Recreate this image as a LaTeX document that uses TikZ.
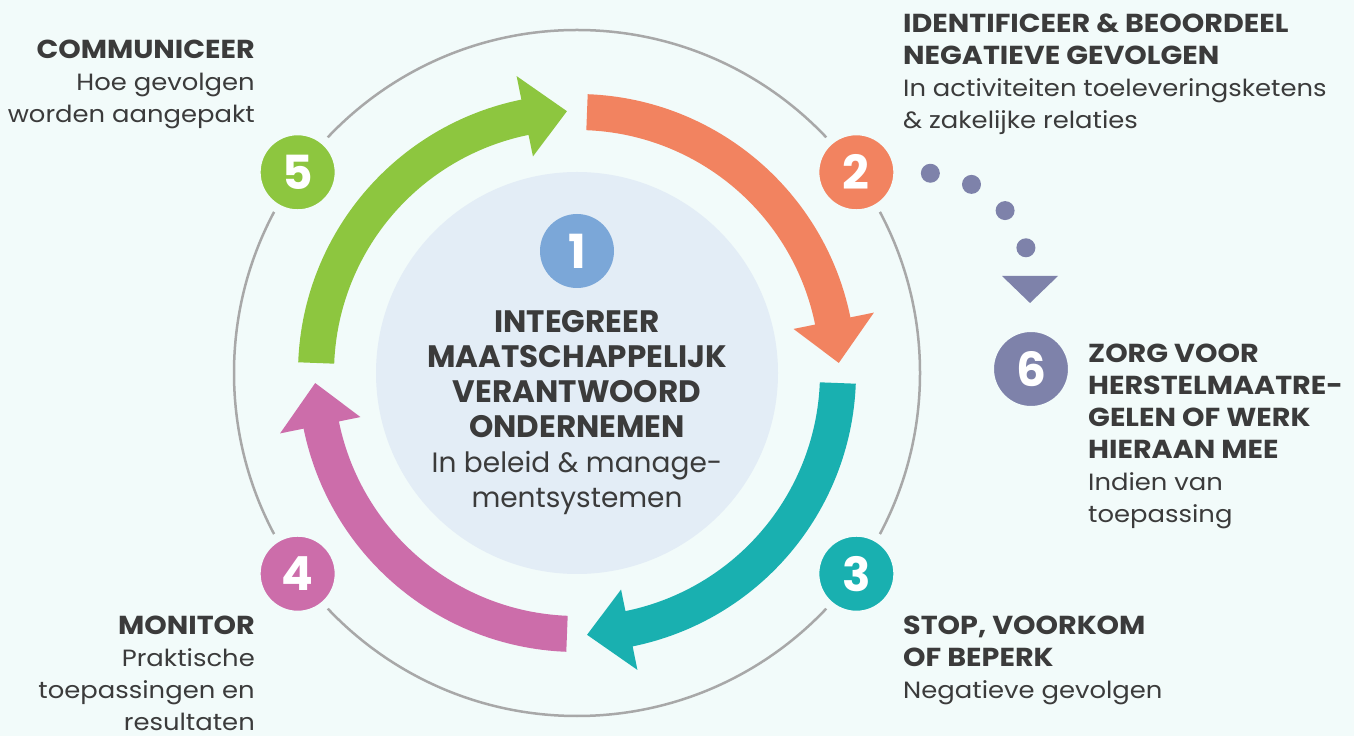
\documentclass[tikz,border=0pt]{standalone}
\usepackage{fontspec}
\setmainfont{Poppins}
\newfontfamily\sidefont{Poppins}[FakeStretch=1.1]
\usetikzlibrary{calc}
\definecolor{bgmint}{HTML}{F2FBFA}
\definecolor{innerblue}{HTML}{E3EDF6}
\definecolor{ringgrey}{HTML}{A8A8A8}
\definecolor{arroworange}{HTML}{F28360}
\definecolor{arrowteal}{HTML}{19B0B0}
\definecolor{arrowpink}{HTML}{CC6DAA}
\definecolor{arrowgreen}{HTML}{8DC63F}
\definecolor{stepblue}{HTML}{7BA7D8}
\definecolor{slate}{HTML}{7E82AA}
\definecolor{darktext}{HTML}{3B3B3B}
\newcommand\sidehead{\sidefont\fontsize{26}{32}\selectfont\bfseries}
\newcommand\sidebody{\sidefont\fontsize{23.5}{32}\selectfont}
\newcommand\centerhead{\fontsize{31}{35}\selectfont\bfseries}
\newcommand\centerbody{\fontsize{28}{35}\selectfont}
\tikzset{
  numdisc/.style={circle, fill=#1, draw=bgmint, line width=9pt, minimum size=83pt,
    inner sep=0pt, text=white, font=\fontsize{47}{47}\selectfont\bfseries},
  sidetext/.style={inner sep=0pt, text=darktext, font=\sidebody},
  centretext/.style={inner sep=0pt, text=darktext, font=\centerbody}
}

\begin{document}
\begin{tikzpicture}[x=1pt, y=1pt]
    % Background
    \fill[bgmint] (0,0) rectangle (1354,736);
    \useasboundingbox (0,0) rectangle (1354,736);
    \coordinate (C) at (577,363);

    % Outer ring and inner disc
    \draw[ringgrey, line width=2.5pt] (C) circle (343);
    \fill[innerblue] (C) circle (201);

    % Cycle arrows
    \foreach \col/\a in {arroworange/87.8, arrowteal/-2.2, arrowpink/-92.2, arrowgreen/177.8}{
      \fill[\col] ($(C)+(\a:279)$) arc[start angle=\a, delta angle=-76.3, radius=279]
        -- ($(C)+({\a-76.3}:303)$) -- ($(C)+({\a-85.6}:262)$) -- ($(C)+({\a-76.3}:221)$)
        -- ($(C)+({\a-76.3}:243)$) arc[start angle={\a-76.3}, delta angle=76.3, radius=243]
        -- cycle;
    }

    % Step numbers
    \node[numdisc=arroworange] (n2) at ($(C)+(35.7:344)$) {2};
    \node[numdisc=arrowteal] (n3) at ($(C)+(-35.7:344)$) {3};
    \node[numdisc=arrowpink] (n4) at ($(C)+(-144.3:344)$) {4};
    \node[numdisc=arrowgreen] (n5) at ($(C)+(144.3:344)$) {5};
    \node[numdisc=stepblue, draw=none, minimum size=74pt] (n1) at (577,485) {1};
    \node[numdisc=slate] (n6) at (1031,367) {6};

    % Dotted link from 2 to 6
    \draw[slate, line width=19pt, line cap=round, dash pattern=on 0pt off 42.9pt]
      ([shift={(74,-1)}]n2.center) arc[start angle=86.3, end angle=16.5, radius=107.7];
    \fill[slate] ([shift={(-29,93)}]n6.center) -- ([shift={(27,93)}]n6.center)
      -- ([shift={(-1,66)}]n6.center) -- cycle;

    % Centre text
    \node[centretext, anchor=north, align=center] (t1) at (577,426)
      {\centerhead INTEGREER\\ \centerhead MAATSCHAPPELIJK\\ \centerhead VERANTWOORD\\
       \centerhead ONDERNEMEN\\ In beleid \& manage-\\ mentsystemen};

    % Side texts
    \node[sidetext, anchor=north west, align=left] (t2) at (903,722)
      {\sidehead IDENTIFICEER \& BEOORDEEL\\ \sidehead NEGATIEVE GEVOLGEN\\
       In activiteiten toeleveringsketens\\ \& zakelijke relaties};
    \node[sidetext, anchor=north west, align=left] (t3) at (903,120)
      {\sidehead STOP, VOORKOM\\ \sidehead OF BEPERK\\ Negatieve gevolgen};
    \node[sidetext, anchor=north east, align=right] (t4) at (255,120)
      {\sidehead MONITOR\\ Praktische\\ toepassingen en\\ resultaten};
    \node[sidetext, anchor=north east, align=right] (t5) at (255,696)
      {\sidehead COMMUNICEER\\ Hoe gevolgen\\ worden aangepakt};
    \node[sidetext, anchor=north west, align=left] (t6) at (1088,392)
      {\sidehead ZORG VOOR\\ \sidehead HERSTELMAATRE-\\ \sidehead GELEN OF WERK\\
       \sidehead HIERAAN MEE\\ Indien van\\ toepassing};
\end{tikzpicture}
\end{document}
